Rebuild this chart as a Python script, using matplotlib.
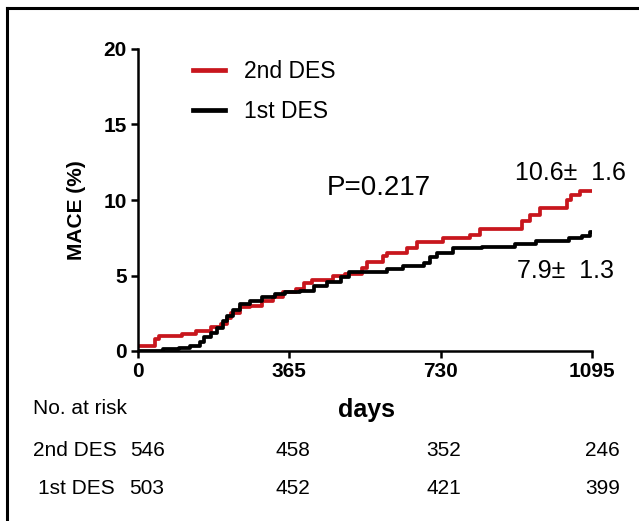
import matplotlib
matplotlib.use('Agg')
import matplotlib.pyplot as plt
import matplotlib.transforms as mtransforms
import numpy as np

plt.rcParams['font.family'] = ['Liberation Sans', 'DejaVu Sans']

# Kaplan-Meier style cumulative MACE (%) - step points
days_2nd = [0, 40, 50, 105, 140, 175, 200, 215, 225, 245, 270, 300, 325, 350, 380,
            400, 420, 470, 500, 540, 552, 590, 600, 648, 672, 735, 800, 825, 926,
            945, 970, 1035, 1045, 1066, 1095]
mace_2nd = [0.3, 0.8, 1.0, 1.1, 1.3, 1.6, 1.8, 2.2, 2.5, 2.9, 3.0, 3.3, 3.6, 3.9, 4.1,
            4.5, 4.7, 5.0, 5.1, 5.5, 5.9, 6.3, 6.5, 6.8, 7.2, 7.5, 7.7, 8.1, 8.6,
            9.0, 9.5, 10.0, 10.3, 10.6, 10.6]

days_1st = [0, 60, 100, 125, 150, 160, 175, 190, 205, 215, 230, 245, 270, 300, 330,
            355, 390, 425, 455, 490, 510, 600, 640, 690, 705, 720, 760, 830, 910,
            960, 1040, 1070, 1090, 1095]
mace_1st = [0.0, 0.1, 0.2, 0.3, 0.6, 0.9, 1.2, 1.5, 2.0, 2.3, 2.7, 3.1, 3.3, 3.6, 3.8,
            3.9, 4.0, 4.3, 4.6, 4.9, 5.2, 5.4, 5.6, 5.8, 6.2, 6.5, 6.8, 6.9, 7.1,
            7.3, 7.5, 7.6, 7.9, 7.9]

xticks = [0, 365, 730, 1095]
yticks = [0, 5, 10, 15, 20]

risk_days = [22, 374, 737, 1120]
risk_2nd = [546, 458, 352, 246]
risk_1st = [503, 452, 421, 399]

red = '#c8161d'

fig = plt.figure(figsize=(6.39, 5.21), dpi=100)
ax = fig.add_axes([138/639, 1 - 351/521, (592 - 138)/639, (351 - 49)/521])

ax.step(days_1st, mace_1st, where='post', color='black', lw=2.7, label='1st DES', zorder=3)
ax.step(days_2nd, mace_2nd, where='post', color=red, lw=2.7, label='2nd DES', zorder=2)

ax.set_xlim(0, 1095)
ax.set_ylim(0, 20)
ax.set_xticks(xticks)
ax.set_yticks(yticks)
for s in ['top', 'right']:
    ax.spines[s].set_visible(False)
for s in ['left', 'bottom']:
    ax.spines[s].set_linewidth(1.8)
ax.tick_params(axis='both', width=1.8, length=5, labelsize=15)
ax.tick_params(axis='y', pad=3)
ax.tick_params(axis='x', pad=3)
for lab in ax.get_xticklabels() + ax.get_yticklabels():
    lab.set_fontweight('bold')
ax.set_ylabel('MACE (%)', fontsize=15, fontweight='bold', va='center')
ax.yaxis.set_label_coords(-0.136, 0.467)

leg = ax.legend(loc='upper left', bbox_to_anchor=(0.121, 0.965), frameon=False,
                fontsize=16.5, handlelength=1.4, handletextpad=0.85, labelspacing=0.78,
                borderaxespad=0, borderpad=0,
                handles=[ax.lines[1], ax.lines[0]])
for h in leg.get_lines():
    h.set_linewidth(3.4)

ax.text(0.415, 0.54, 'P=0.217', transform=ax.transAxes, fontsize=20, va='center', ha='left')
ax.text(0.83, 0.59, '10.6\u00b1  1.6', transform=ax.transAxes, fontsize=18, va='center', ha='left')
ax.text(0.835, 0.265, '7.9\u00b1  1.3', transform=ax.transAxes, fontsize=18, va='center', ha='left')

# number at risk table
fig.text(366/639, 1 - 410/521, 'days', fontsize=18, fontweight='bold', ha='center', va='center')
fig.text(33/639, 1 - 409/521, 'No. at risk', fontsize=15, ha='left', va='center')
fig.text(33/639, 1 - 450/521, '2nd DES', fontsize=15, ha='left', va='center')
fig.text(38/639, 1 - 489/521, '1st DES', fontsize=15, ha='left', va='center')
trans = mtransforms.blended_transform_factory(ax.transData, fig.transFigure)
for d, n2, n1 in zip(risk_days, risk_2nd, risk_1st):
    ax.text(d, 1 - 450/521, str(n2), transform=trans, fontsize=15, ha='center', va='center', clip_on=False)
    ax.text(d, 1 - 489/521, str(n1), transform=trans, fontsize=15, ha='center', va='center', clip_on=False)

# frame lines on left and top of the image
fig.add_artist(plt.Line2D([7/639, 7/639], [0, 1 - 8/521], color='black', lw=2.2, transform=fig.transFigure))
fig.add_artist(plt.Line2D([7/639, 1], [1 - 8/521, 1 - 8/521], color='black', lw=2.2, transform=fig.transFigure))

fig.savefig('out.png', dpi=100)
